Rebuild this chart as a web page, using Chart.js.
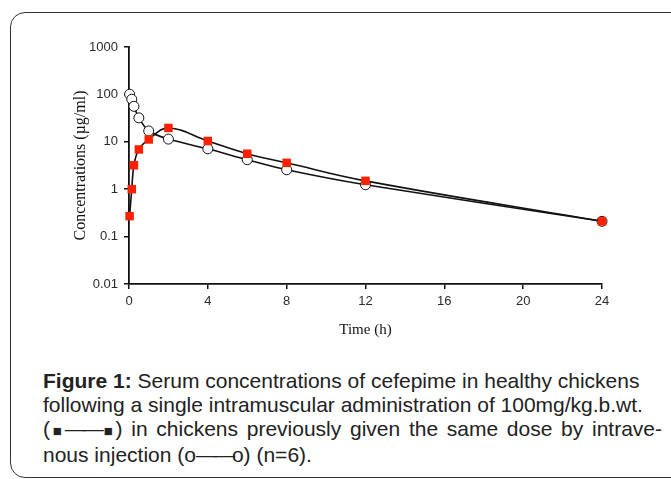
<!DOCTYPE html>
<html>
<head>
<meta charset="utf-8">
<script src="https://cdn.jsdelivr.net/npm/chart.js@4.4.1/dist/chart.umd.min.js"></script>
<style>
  html, body { margin: 0; padding: 0; background: #fff; overflow: hidden; width: 671px; height: 479px; }
  #frame {
    position: absolute; left: 10px; top: 12px; width: 720px; height: 466px;
    box-sizing: border-box; border: 1px solid #333; border-radius: 15px;
    pointer-events: none;
  }
  #myChart { position: absolute; left: 0; top: 0; }
  #caption {
    position: absolute; left: 43px; top: 369px; width: 619px;
    font-family: "Liberation Sans", Arial, sans-serif; font-size: 21px; line-height: 24px;
    color: #222; white-space: nowrap;
  }
  #caption .just { text-align: justify; text-align-last: justify; }
  #caption .dash { letter-spacing: -3px; }
  #caption .sq { font-size: 15px; }
</style>
</head>
<body>
<div id="frame"></div>
<canvas id="myChart" width="671" height="350"></canvas>
<div id="caption">
  <div><b>Figure 1:</b> Serum concentrations of cefepime in healthy chickens</div>
  <div>following a single intramuscular administration of 100mg/kg.b.wt.</div>
  <div class="just">(<span class="sq">&#9632;</span><span class="dash">&mdash;&mdash;</span><span class="sq">&#9632;</span>) in chickens previously given the same dose by intrave-</div>
  <div>nous injection (o<span class="dash">&mdash;&mdash;</span>o) (n=6).</div>
</div>
<script>
// sampling times (h)
var times = [0.03, 0.14, 0.25, 0.5, 1, 2, 4, 6, 8, 12, 24];
// intramuscular, after previous iv dose (red squares)
var imConc = [0.27, 1.0, 3.2, 6.9, 11.2, 19.6, 10.4, 5.6, 3.6, 1.5, 0.21];
// intravenous (open circles)
var ivConc = [101, 79, 56, 32, 16.9, 11.4, 7.1, 4.2, 2.57, 1.24, 0.21];
var yTicks = [0.01, 0.1, 1, 10, 100, 1000];
var xTicks = [0, 4, 8, 12, 16, 20, 24];

function toPoints(xs, ys) {
    return xs.map(function (x, i) { return {x: x, y: ys[i]}; });
}

var ctx = document.getElementById('myChart').getContext('2d');
var myChart = new Chart(ctx, {
    type: 'line',
    data: {
        datasets: [{
            label: 'IM',
            data: toPoints(times, imConc),
            borderColor: '#111',
            borderWidth: 1.6,
            tension: 0.4,
            pointStyle: 'rect',
            pointRadius: 6,
            pointBackgroundColor: '#ff2000',
            pointBorderColor: '#ff2000',
            pointBorderWidth: 0,
            clip: false
        }, {
            label: 'IV',
            data: toPoints(times, ivConc),
            borderColor: '#111',
            borderWidth: 1.6,
            tension: 0.3,
            pointStyle: 'circle',
            pointRadius: 5,
            pointBackgroundColor: '#fff',
            pointBorderColor: '#111',
            pointBorderWidth: 1,
            clip: false
        }]
    },
    options: {
        responsive: false,
        animation: false,
        events: [],
        layout: {
            padding: {left: 71, top: 47, right: 69, bottom: 11}
        },
        plugins: {
            legend: {display: false},
            tooltip: {enabled: false}
        },
        scales: {
            x: {
                type: 'linear',
                min: 0,
                max: 24,
                afterBuildTicks: function (scale) {
                    scale.ticks = xTicks.map(function (v) { return {value: v}; });
                },
                afterFit: function (scale) { scale.height = 55; },
                grid: {drawOnChartArea: false, drawTicks: true, tickLength: 5, color: '#111', lineWidth: 1.5},
                border: {display: true, color: '#111', width: 1.8},
                ticks: {
                    padding: 5,
                    color: '#2a2a2a',
                    font: {family: 'Liberation Sans', size: 13}
                },
                title: {
                    display: true,
                    text: 'Time (h)',
                    color: '#111',
                    padding: 0,
                    font: {family: 'Liberation Serif', size: 15}
                }
            },
            y: {
                type: 'logarithmic',
                min: 0.01,
                max: 1000,
                afterBuildTicks: function (scale) {
                    scale.ticks = yTicks.map(function (v) { return {value: v}; });
                },
                afterFit: function (scale) { scale.width = 58; },
                grid: {drawOnChartArea: false, drawTicks: true, tickLength: 5, color: '#111', lineWidth: 1.5},
                border: {display: true, color: '#111', width: 1.8},
                ticks: {
                    padding: 6,
                    color: '#2a2a2a',
                    font: {family: 'Liberation Sans', size: 13},
                    callback: function (value) { return String(value); }
                },
                title: {
                    display: true,
                    text: 'Concentrations (\u00b5g/ml)',
                    color: '#111',
                    padding: 0,
                    font: {family: 'Liberation Serif', size: 16}
                }
            }
        }
    }
});
</script>
</body>
</html>
